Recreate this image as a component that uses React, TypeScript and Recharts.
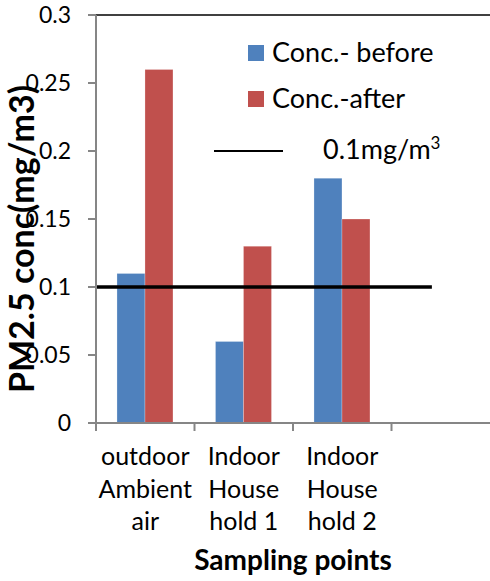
import { BarChart, Bar, XAxis, YAxis, ReferenceLine, Legend } from "recharts"

const categories = ["outdoor\nAmbient\nair", "Indoor\nHouse\nhold 1", "Indoor\nHouse\nhold 2", ""]
const concBefore = [0.11, 0.06, 0.18, null]
const concAfter = [0.26, 0.13, 0.15, null]
const yTicks = [0, 0.05, 0.1, 0.15, 0.2, 0.25, 0.3]
const seriesNames = ["Conc.- before", "Conc.-after"]
const limitValue = 0.1
// the limit line runs from the y axis across this many category slots
const limitSpan = 3.41
const limitName = "0.1mg/m"

const W = 490
const H = 581
const top = 15
const left = 96
const bottom = 423
const band = (W - left) / categories.length
const font = "Lato, Carlito, 'Liberation Sans', sans-serif"
const blue = "#4F81BD"
const red = "#C0504D"
const axisGray = "#868686"

const data = categories.map((c, i) => ({ name: c, before: concBefore[i], after: concAfter[i] }))

function XTick(props: any) {
  const { x, payload } = props
  const lines = String(payload.value).split("\n")
  const lx = x - band / 2
  return (
    <g>
      <line x1={lx} x2={lx} y1={bottom} y2={bottom + 8} stroke={axisGray} strokeWidth={2} />
      {lines.map((l, i) => (
        <text key={i} x={x} y={465 + i * 32.5} textAnchor="middle" fontSize={25} fill="#000" fontFamily={font}>
          {l}
        </text>
      ))}
    </g>
  )
}

function YTitle() {
  const cx = 20
  const cy = 239
  return (
    <text x={cx} y={cy} transform={`rotate(-90, ${cx}, ${cy})`} textAnchor="middle" dominantBaseline="central"
      fontSize={34} fontWeight="bold" fontFamily={font} fill="#000">
      PM2.5 conc(mg/m3)
    </text>
  )
}

function XTitle() {
  return (
    <text x={left + (W - left) / 2} y={570} textAnchor="middle" fontSize={28} fontWeight="bold" fontFamily={font} fill="#000">
      Sampling points
    </text>
  )
}

function LimitLine(p: any) {
  const x2 = p.x1 + ((p.x2 - p.x1) * limitSpan) / categories.length
  return <line x1={p.x1} y1={p.y1} x2={x2} y2={p.y2} stroke="#000" strokeWidth={3.5} />
}

function LegendBox() {
  const txt = { position: "absolute" as const, fontSize: 27, fontFamily: font, color: "#000", whiteSpace: "nowrap" as const, lineHeight: "32px" }
  return (
    <div style={{ position: "relative", width: W, height: 0 }}>
      <div style={{ position: "absolute", left: 248, top: 45, width: 16, height: 16, background: blue }} />
      <div style={{ ...txt, left: 272, top: 36 }}>{seriesNames[0]}</div>
      <div style={{ position: "absolute", left: 248, top: 91, width: 16, height: 16, background: red }} />
      <div style={{ ...txt, left: 272, top: 82 }}>{seriesNames[1]}</div>
      <div style={{ position: "absolute", left: 214, top: 150, width: 69, height: 2, background: "#000" }} />
      <div style={{ ...txt, left: 323, top: 133 }}>
        {limitName}
        <sup style={{ fontSize: 17, verticalAlign: "top", lineHeight: "20px" }}>3</sup>
      </div>
    </div>
  )
}

export default function App() {
  return (
    <div style={{ position: "absolute", left: 0, top: 0, width: W, height: H, background: "#fff" }}>
      <BarChart width={W} height={H} data={data} margin={{ top, right: 0, bottom: 0, left: 0 }}
        barCategoryGap="21.3%" barGap={0}>
        <XAxis dataKey="name" interval={0} height={H - bottom} tickLine={false}
          axisLine={{ stroke: axisGray, strokeWidth: 2 }} tick={<XTick />}
          label={<XTitle />} />
        <YAxis width={left} domain={[0, 0.3]} ticks={yTicks} interval={0}
          axisLine={{ stroke: axisGray, strokeWidth: 2 }} tickLine={{ stroke: axisGray, strokeWidth: 2 }}
          tickSize={8} tickMargin={17}
          tick={{ fontSize: 23, fill: "#000", fontFamily: font }}
          label={<YTitle />} />
        <ReferenceLine y={0.3} stroke="#000" strokeWidth={1.5} />
        <Bar dataKey="before" name={seriesNames[0]} fill={blue} stroke="#fff" strokeOpacity={0.5} strokeWidth={0.5} isAnimationActive={false} />
        <Bar dataKey="after" name={seriesNames[1]} fill={red} stroke="#fff" strokeOpacity={0.5} strokeWidth={0.5} isAnimationActive={false} />
        <ReferenceLine y={limitValue} shape={<LimitLine />} />
        <Legend layout="vertical" align="center" verticalAlign="middle" content={<LegendBox />}
          wrapperStyle={{ position: "absolute", left: 0, top: 0, width: W, height: 0 }} />
      </BarChart>
    </div>
  )
}
